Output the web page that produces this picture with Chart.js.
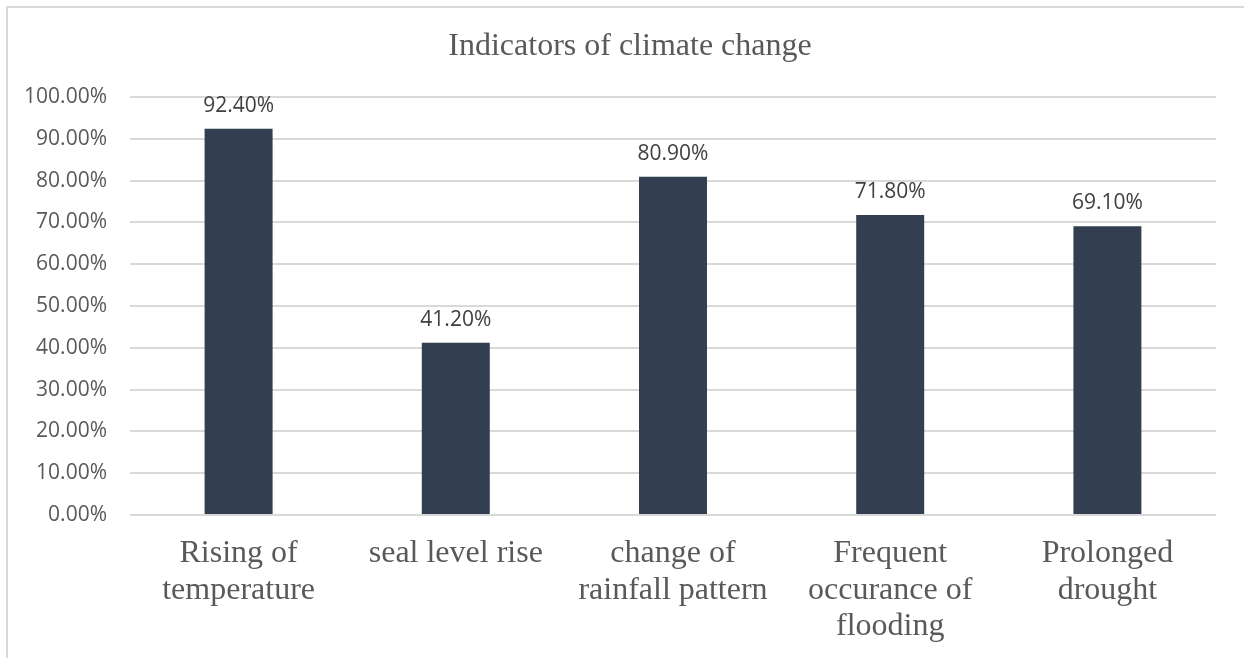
<!DOCTYPE html>
<html>
<head>
<meta charset="utf-8">
<script src="https://cdn.jsdelivr.net/npm/chart.js@4/dist/chart.umd.min.js"></script>
<style>
  html,body{margin:0;padding:0;background:#fff;overflow:hidden;}
  #frame{position:absolute;left:6px;top:6px;width:2000px;height:2000px;border-left:2px solid #d9d9d9;border-top:2px solid #d9d9d9;}
  #wrap{position:absolute;left:0;top:0;width:1244px;height:658px;}
</style>
</head>
<body>
<div id="frame"></div>
<div id="wrap"><canvas id="c" width="1244" height="658"></canvas></div>
<script>
// ── DATA ─────────────────────────────────────────────────────────────────────
const TITLE = 'Indicators of climate change';
const cats = [
  ['Rising of','temperature'],
  'seal level rise',
  ['change of','rainfall pattern'],
  ['Frequent','occurance of','flooding'],
  ['Prolonged','drought']
];
const vals = [92.4, 41.2, 80.9, 71.8, 69.1];   // percent
const yMin = 0, yMax = 100, yStep = 10;

const BAR = '#333f50';
const GRID = '#d9d9d9';
const SERIF = '"Liberation Serif","Times New Roman",serif';
const SANS = '"Open Sans","Liberation Sans",sans-serif';

const pct = v => Number(v).toFixed(2) + '%';

// value labels above each bar
const barLabels = {
  id:'barLabels',
  afterDatasetsDraw(ch){
    const ctx = ch.ctx, meta = ch.getDatasetMeta(0);
    ctx.save();
    ctx.font = '21px ' + SANS;
    ctx.fillStyle = '#404040';
    ctx.textAlign = 'center';
    ctx.textBaseline = 'middle';
    meta.data.forEach((b,i)=>{ ctx.fillText(pct(vals[i]), b.x, b.y - 23); });
    ctx.restore();
  }
};

// title centred on the frame (which runs past the right edge), not on the plot
const frameTitle = {
  id:'frameTitle',
  afterDraw(ch){
    const ctx = ch.ctx;
    ctx.save();
    ctx.font = '32px ' + SERIF;
    ctx.fillStyle = '#595959';
    ctx.textAlign = 'center';
    ctx.textBaseline = 'middle';
    ctx.fillText(TITLE, 630, 47);
    ctx.restore();
  }
};

new Chart(document.getElementById('c'), {
  type:'bar',
  data:{labels:cats, datasets:[{data:vals, backgroundColor:BAR, barPercentage:1, categoryPercentage:0.313}]},
  options:{
    responsive:false, animation:false,
    layout:{padding:{left:0, right:28, top:97, bottom:0}},
    plugins:{legend:{display:false}, tooltip:{enabled:false}, title:{display:false}},
    scales:{
      x:{
        grid:{display:false, drawTicks:false}, border:{display:false},
        ticks:{color:'#595959', font:{family:SERIF, size:32, lineHeight:1.15}, padding:20, maxRotation:0, autoSkip:false},
        afterFit(s){ s.height = 143; }
      },
      y:{
        min:yMin, max:yMax,
        grid:{color:GRID, lineWidth:2, drawTicks:false}, border:{display:false},
        ticks:{stepSize:yStep, color:'#595959', font:{family:SANS, size:21}, padding:23, callback:v=>pct(v)},
        afterFit(s){ s.width = 130; }
      }
    }
  },
  plugins:[barLabels, frameTitle]
});
</script>
</body>
</html>
